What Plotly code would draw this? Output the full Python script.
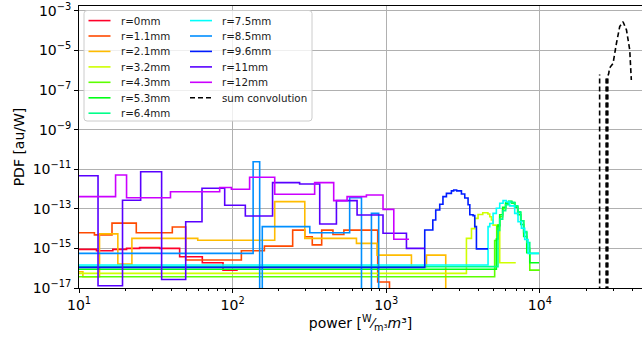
import plotly.graph_objects as go

TINY = 1e-20  # stands for an empty bin (zero on a log axis), below the visible range

labels = ["r=0mm", "r=1.1mm", "r=2.1mm", "r=3.2mm", "r=4.3mm", "r=5.3mm", "r=6.4mm",
          "r=7.5mm", "r=8.5mm", "r=9.6mm", "r=11mm", "r=12mm"]
conv_label = "sum convolution"

# ---- histogram data: bin edges (power) and PDF values ----
r00_edges = [10, 13.0, 16.6, 20.4, 24.8, 33.5, 45.2, 63.5, 86.6, 108]
r00_vals = [8.9e-16, 7.6e-16, 8.9e-16, 1.0e-15, 1.1e-15, 1.0e-15, 3.8e-16, 1.9e-16, 8e-17]

r11_edges = [10, 12.6, 16.4, 23.6, 40.5, 49.5, 114, 161, 246, 295, 330, 380, 450, 530, 640, 880, 1050, 1180]
r11_vals = [6.2e-15, 4.8e-15, 1.9e-14, 6.2e-15, 1.2e-14, 2.6e-16, 7.6e-16, 1.3e-15, 8.4e-15,
            3.9e-15, 1.5e-15, 8.4e-15, 5e-15, 8.4e-15, 8.4e-15, 2e-17, TINY]

r21_edges = [10, 10.6, 13.6, 17.9, 22.1, 59.3, 188, 295, 640, 871, 1459, 1828, 2440, 2500]
r21_vals = [6.6e-17, 3.7e-17, 5.4e-15, 1.6e-16, 3.2e-15, 2.6e-15, 2.3e-13, 3.2e-15, 1.8e-15,
            4.6e-16, 1.2e-16, 4.6e-16, TINY]

r32_edges = [10, 3327, 3589, 3770, 3960, 4250, 4590, 4720, 4840, 4960, 5480, 6970]
r32_vals = [5.5e-17, 3.2e-15, 1e-14, 3.3e-14, 5.2e-14, 6.3e-14, 5.5e-14, 4e-14, 2.7e-14,
            1.5e-14, 1.9e-16]

r43_edges = [10, 5080, 5240, 5480, 5730, 5990, 6270, 6560, 6860, 7180, 7510, 7850, 8220, 8600, 9980]
r43_vals = [3.7e-17, 2.5e-15, 1.3e-14, 4e-14, 1e-13, 1.8e-13, 2.2e-13, 2e-13, 1.3e-13, 6.3e-14,
            2.5e-14, 6.3e-15, 1e-15, 8e-17]

r53_edges = [10, 5210, 5340, 5480, 5730, 5990, 6270, 6560, 6860, 7180, 7510, 7850, 8220, 8600, 9880]
r53_vals = [8.8e-17, 3e-15, 1.5e-14, 5e-14, 1.2e-13, 2e-13, 2.4e-13, 2e-13, 1.2e-13, 5e-14,
            1.6e-14, 4e-15, 6e-16, 1.9e-16]

r64_edges = [10, 5340, 5480, 5730, 5990, 6270, 6560, 6860, 7180, 7510, 7850, 8220, 8600, 9880]
r64_vals = [1.2e-16, 8e-15, 3e-14, 8e-14, 1.6e-13, 2.3e-13, 2.1e-13, 1.4e-13, 7e-14, 2.5e-14,
            7e-15, 2e-15, 5.6e-16]

r75_edges = [10, 4600, 4720, 4960, 5210, 5480, 5760, 6050, 6360, 6860, 7210, 7590, 7970, 8380, 9880]
r75_vals = [1.45e-16, 1.26e-14, 1.8e-14, 5.9e-14, 1.07e-13, 1.9e-13, 2.6e-13, 2.2e-13, 1.4e-13,
            5.9e-14, 2.2e-14, 1.05e-14, 2.8e-15, 5.6e-16]

r85_edges = [10, 136, 150, 156, 318, 578, 690, 801, 893, 950]
r85_vals = [5.6e-16, 2.4e-11, TINY, 1.26e-14, 6.2e-15, 3.6e-13, TINY, 5.9e-14, TINY]

r96_edges = [10, 1781, 2010, 2100, 2230, 2340, 2465, 2656, 2750, 2874, 3087, 3245, 3410, 3500,
             3675, 3770, 3865, 4600]
r96_vals = [1.1e-16, 8.5e-15, 2.7e-14, 8.7e-14, 1.7e-13, 4.1e-13, 6e-13, 8e-13, 8.9e-13, 8e-13,
            5.6e-13, 3.5e-13, 1.6e-13, 5e-14, 4.5e-14, 1.26e-14, 9.5e-16]

r110_edges = [10, 13.3, 19.2, 25.2, 34.5, 49.5, 63.2, 88.8, 121, 182, 273, 369, 474, 646, 953,
              1354, 1781]
r110_vals = [4.7e-12, 1.3e-17, 2.7e-13, 7.4e-12, 2.7e-17, 2.2e-14, 1.1e-12, 1.5e-13, 4.3e-14,
             2.1e-12, 1.8e-12, 1.7e-14, 2.6e-13, 4.9e-14, 5.8e-15, 1e-15]

r120_edges = [10, 17.3, 20.4, 39.4, 82.4, 98.2, 129, 188, 342, 455, 556, 743, 953, 1120, 1407]
r120_vals = [4.1e-13, 5.1e-12, 3.6e-13, 7.3e-13, 1.2e-12, 9.8e-13, 3.9e-12, 5.4e-13, 2.1e-12,
             2.6e-13, 4.1e-13, 5e-13, 9.4e-14, 2.9e-15]

# sum convolution: an isolated spike, then a cluster of spikes and the main peak
conv_x = [24500, 24500, None, 27000, 27000, None, 27350, 27350, None, 27700, 27700, 28100,
          28400, 29000, 29960, 31530, 33100, 34800, 36650, 38470, 39400]
conv_y = [TINY, 6e-7, None, TINY, 5e-7, None, TINY, 4e-7, None, TINY, 5e-7, 7e-7,
          1.26e-6, 1.6e-6, 2.2e-6, 2.3e-5, 1.6e-4, 2.8e-4, 1.07e-4, 1.05e-5, 3.2e-7]

series = [(r00_edges, r00_vals), (r11_edges, r11_vals), (r21_edges, r21_vals),
          (r32_edges, r32_vals), (r43_edges, r43_vals), (r53_edges, r53_vals),
          (r64_edges, r64_vals), (r75_edges, r75_vals), (r85_edges, r85_vals),
          (r96_edges, r96_vals), (r110_edges, r110_vals), (r120_edges, r120_vals)]

x_tick_vals = [10, 100, 1000, 10000]
x_tick_text = ["10<sup>1</sup>", "10<sup>2</sup>", "10<sup>3</sup>", "10<sup>4</sup>"]
y_tick_exps = [-17, -15, -13, -11, -9, -7, -5, -3]

# ---- colours: matplotlib gist_rainbow sampled at i/12 ----
_stops = [(0.000, (1.00, 0.00, 0.16)), (0.030, (1.00, 0.00, 0.00)), (0.215, (1.00, 1.00, 0.00)),
          (0.400, (0.00, 1.00, 0.00)), (0.586, (0.00, 1.00, 1.00)), (0.770, (0.00, 0.00, 1.00)),
          (0.954, (1.00, 0.00, 1.00)), (1.000, (1.00, 0.00, 0.75))]


def rainbow(t):
    for (t0, c0), (t1, c1) in zip(_stops[:-1], _stops[1:]):
        if t0 <= t <= t1:
            f = (t - t0) / (t1 - t0)
            c = [a + (b - a) * f for a, b in zip(c0, c1)]
            return "rgb(%d,%d,%d)" % tuple(round(v * 255) for v in c)
    return "rgb(255,0,191)"


colors = [rainbow(i / 12) for i in range(12)]

W, H = 642, 348
ML, MR, MT, MB = 79, 0, 6, 60
PW, PH = W - ML - MR, H - MT - MB


def px(x):
    return (x - ML) / PW


def py(y):
    return (H - MB - y) / PH


FONT = "DejaVu Sans"
LW = 1.6
DASH = "5px,3px"

fig = go.Figure()
for (edges, vals), lab, col in zip(series, labels, colors):
    fig.add_trace(go.Scatter(x=edges, y=list(vals) + [vals[-1]], mode="lines", name=lab,
                             line=dict(color=col, width=LW, shape="hv"), showlegend=False))
fig.add_trace(go.Scatter(x=conv_x, y=conv_y, mode="lines", name=conv_label, connectgaps=False,
                         line=dict(color="black", width=LW, dash=DASH), showlegend=False))

# ---- legend drawn by hand (matplotlib style, two columns) ----
shapes = []
annotations = []
bx0, bx1, by0, by1 = 84, 312, 10.5, 121
r = 3
rx, ry = r / PW, r / PH
X0, X1, Y0, Y1 = px(bx0), px(bx1), py(by1), py(by0)
path = (f"M {X0+rx},{Y0} L {X1-rx},{Y0} Q {X1},{Y0} {X1},{Y0+ry} L {X1},{Y1-ry} "
        f"Q {X1},{Y1} {X1-rx},{Y1} L {X0+rx},{Y1} Q {X0},{Y1} {X0},{Y1-ry} "
        f"L {X0},{Y0+ry} Q {X0},{Y0} {X0+rx},{Y0} Z")
shapes.append(dict(type="path", xref="paper", yref="paper", path=path,
                   fillcolor="rgba(255,255,255,0.8)", line=dict(color="#cccccc", width=1),
                   layer="above"))
row_y = [20.6, 36.0, 51.4, 66.9, 82.3, 97.8, 113.2]
entries = [(lab, col, "solid") for lab, col in zip(labels, colors)] + [(conv_label, "black", DASH)]
for k, (lab, col, dash) in enumerate(entries):
    c, rr = (0, k) if k < 7 else (1, k - 7)
    lx0 = 88.5 if c == 0 else 190
    yy = row_y[rr]
    shapes.append(dict(type="line", xref="paper", yref="paper", x0=px(lx0), x1=px(lx0 + 22),
                       y0=py(yy), y1=py(yy), line=dict(color=col, width=LW, dash=dash),
                       layer="above"))
    annotations.append(dict(xref="paper", yref="paper", x=px(lx0 + 30), y=py(yy), text=lab,
                            showarrow=False, xanchor="left", yanchor="middle",
                            font=dict(family=FONT, size=10.3, color="#1a1a1a")))

minor_x = [m * 10 ** d for d in range(1, 5) for m in range(2, 10)]

fig.update_layout(
    width=W, height=H, autosize=False,
    margin=dict(l=ML, r=MR, t=MT, b=MB),
    paper_bgcolor="white", plot_bgcolor="white",
    font=dict(family=FONT, size=14, color="black"),
    shapes=shapes, annotations=annotations,
    xaxis=dict(type="log", range=[1, 4.665], tickmode="array", tickvals=x_tick_vals,
               ticktext=x_tick_text, ticks="outside", ticklen=4, tickwidth=1, tickcolor="black",
               showline=True, linecolor="black", linewidth=1, mirror=True,
               showgrid=True, gridcolor="#b0b0b0", gridwidth=0.8, zeroline=False,
               tickfont=dict(family=FONT, size=14),
               minor=dict(tickmode="array", tickvals=minor_x, ticks="outside", ticklen=2,
                          tickcolor="black", showgrid=False),
               title=dict(text="power [<sup>W</sup>⁄<sub>m³</sub><i>m</i>³]",
                          font=dict(family=FONT, size=14), standoff=6)),
    yaxis=dict(type="log", range=[-17, -2.757], tickmode="array",
               tickvals=[10.0 ** e for e in y_tick_exps],
               ticktext=["10<sup>−%d</sup>" % (-e) for e in y_tick_exps],
               ticks="outside", ticklen=4, tickwidth=1, tickcolor="black",
               showline=True, linecolor="black", linewidth=1, mirror=True,
               showgrid=True, gridcolor="#b0b0b0", gridwidth=0.8, zeroline=False,
               tickfont=dict(family=FONT, size=14),
               title=dict(text="PDF [au/W]", font=dict(family=FONT, size=14), standoff=4)),
)

fig.write_html("out.html")
